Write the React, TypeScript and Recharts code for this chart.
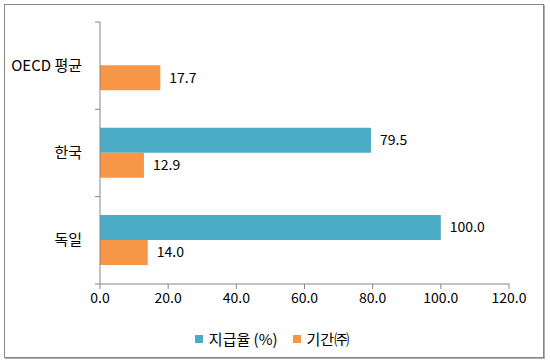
import React from 'react';
import { BarChart, Bar, XAxis, YAxis, Legend, LabelList } from 'recharts';

const categories = ['OECD 평균', '한국', '독일'];
const payRate = [null, 79.5, 100.0];
const weeks = [17.7, 12.9, 14.0];
const xTicks = [0, 20, 40, 60, 80, 100, 120];

const BLUE = '#4BACC6';
const ORANGE = '#F79646';
const AXIS = '#868686';
const FONT = '"Noto Sans CJK KR", "Noto Sans", sans-serif';

const data = categories.map((name, i) => ({ name, payRate: payRate[i], weeks: weeks[i] }));

const fmt = (v: any) => (v == null ? '' : Number(v).toFixed(1));

// category label plus small tick marks on the band edges
const CategoryTick: React.FC<any> = ({ x, y, payload, index }) => {
  const axisX = x + 16;
  const half = payload && payload.offset ? payload.offset : 43.5;
  return (
    <g>
      <line x1={axisX - 5} x2={axisX} y1={y - half} y2={y - half} stroke={AXIS} />
      {index === categories.length - 1 && (
        <line x1={axisX - 5} x2={axisX} y1={y + half} y2={y + half} stroke={AXIS} />
      )}
      <text x={x - 2} y={y} dy={5} textAnchor="end" fontSize={15} fill="#000" fontFamily={FONT}>
        {payload.value}
      </text>
    </g>
  );
};

const LegendBox: React.FC = () => (
  <div style={{ display: 'flex', justifyContent: 'center', gap: 15, fontFamily: FONT, fontSize: 15, color: '#000', paddingLeft: 30 }}>
    <span style={{ display: 'flex', alignItems: 'center' }}>
      <span style={{ width: 8, height: 8, background: BLUE, display: 'inline-block', marginRight: 6 }} />
      지급율 (%)
    </span>
    <span style={{ display: 'flex', alignItems: 'center' }}>
      <span style={{ width: 8, height: 8, background: ORANGE, display: 'inline-block', marginRight: 6 }} />
      기간㈜
    </span>
  </div>
);

export default function App() {
  return (
    <div style={{ position: 'absolute', left: 0, top: 0, width: 550, height: 364, background: '#fff' }}>
      <div
        style={{
          position: 'absolute',
          left: 4,
          top: 4,
          width: 538,
          height: 352,
          border: `1px solid ${AXIS}`,
          boxShadow: '1px 1px 0 #b0b0b0',
        }}
      />
      <div style={{ position: 'absolute', left: 0, top: 0 }}>
        <BarChart
          width={550}
          height={364}
          data={data}
          layout="vertical"
          margin={{ top: 22, right: 41, left: 5, bottom: 19 }}
          barCategoryGap="21%"
          barGap={0}
        >
          <XAxis
            type="number"
            domain={[0, 120]}
            ticks={xTicks}
            tickFormatter={(v) => Number(v).toFixed(1)}
            stroke={AXIS}
            tickSize={5}
            tickMargin={4}
            tick={{ fill: '#000', fontSize: 14, fontFamily: FONT }}
            height={40}
          />
          <YAxis
            type="category"
            dataKey="name"
            width={95}
            stroke={AXIS}
            tickLine={false}
            tickSize={5}
            tickMargin={11}
            tick={<CategoryTick />}
          />
          <Legend content={<LegendBox />} verticalAlign="bottom" wrapperStyle={{ bottom: 15 }} />
          <Bar dataKey="payRate" name="지급율 (%)" fill={BLUE} isAnimationActive={false}>
            <LabelList dataKey="payRate" position="right" offset={9} formatter={fmt} fill="#000" fontSize={14} fontFamily={FONT} />
          </Bar>
          <Bar dataKey="weeks" name="기간㈜" fill={ORANGE} isAnimationActive={false}>
            <LabelList dataKey="weeks" position="right" offset={9} formatter={fmt} fill="#000" fontSize={14} fontFamily={FONT} />
          </Bar>
        </BarChart>
      </div>
    </div>
  );
}
